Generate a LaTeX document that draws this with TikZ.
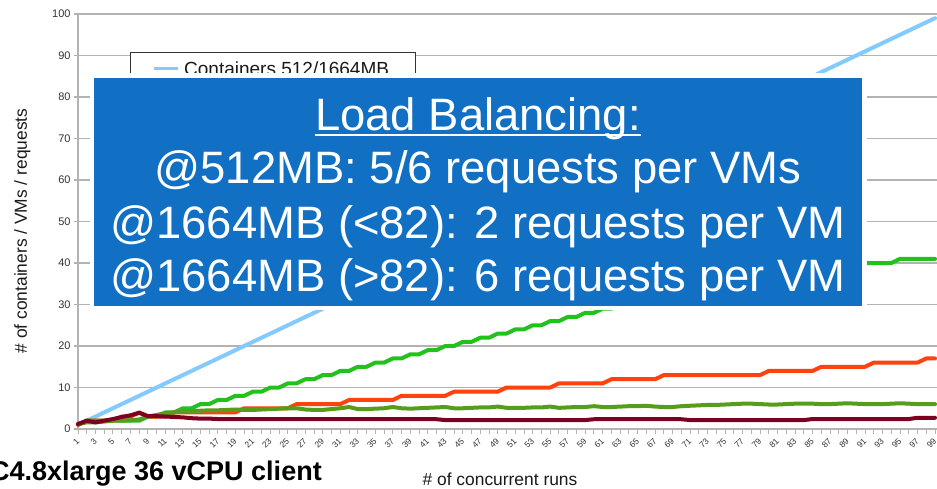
\documentclass[tikz,border=0pt]{standalone}
\usepackage{fontspec}
\setmainfont{Liberation Sans}
\definecolor{boxblue}{HTML}{1170C4}
\definecolor{gridgray}{HTML}{B3B3B3}
\definecolor{sblue}{HTML}{83CAFF}
\definecolor{sgreen}{HTML}{22C11C}
\definecolor{sorange}{HTML}{FF420E}
\definecolor{solive}{HTML}{579D1C}
\definecolor{sred}{HTML}{7E0021}
\definecolor{labelgray}{HTML}{333333}
\definecolor{titlegray}{HTML}{1A1A1A}
\begin{document}
\begin{tikzpicture}[x=1pt,y=-1pt,
  series/.style={line width=4pt, line join=round, line cap=round},
  ytick/.style={font=\fontsize{11}{13}\selectfont, text=labelgray, anchor=east, inner sep=0pt},
  xtick/.style={font=\fontsize{8.5}{10}\selectfont, text=labelgray, anchor=east, rotate=45, inner sep=0pt},
  axistitle/.style={font=\fontsize{17.4}{20}\selectfont, text=titlegray, inner sep=0pt},
  boxline/.style={text=white, font=\fontsize{45.4}{54}\selectfont, anchor=base, inner sep=0pt}]
\useasboundingbox (0,0) rectangle (937,489);
\fill[white] (0,0) rectangle (937,489);
\clip (0,0) rectangle (937,489);

% horizontal grid, y ticks and y labels
\foreach \v in {0,10,...,100} {
  \draw[gridgray, line width=1.1pt] (73.5,{429-4.15*\v}) -- (937,{429-4.15*\v});
  \node[ytick] (ylab\v) at (70.8,{429-4.15*\v}) {\v};
}
% axes
\draw[gridgray, line width=1.1pt] (78,14) -- (78,429);
\foreach \n in {1,...,99}
  \draw[gridgray, line width=1pt] ({78+8.745*(\n-1)},429) -- ++(0,5);
\foreach \n in {1,3,...,99}
  \node[xtick] (xlab\n) at ({78+8.745*(\n-1)},439.5) {\n};

% axis titles
\node[axistitle, rotate=90, anchor=base] (ytitle) at (27,231) {\# of containers / VMs / requests};
\node[axistitle, anchor=base] (xtitle) at (500,485) {\# of concurrent runs};

% data series (category n, value v)
\begin{scope}[shift={(69.255,429)}, x=8.745pt, y=4.15pt]
  \draw[series, sblue] (1,1) -- (99,99);
  \draw[series, sgreen] (1,1) -- (2,2) -- (8,2)
    \foreach \n in {9,...,94} { -- (\n,{min(floor((\n-1)/2)-1,40)}) }
    -- (95,41) -- (99,41);
  \draw[series, sorange] (1,1) -- (2,2) -- (5,2) -- (6,3) -- (7,3) -- (8,4) -- (9,3)
    -- (10,3) -- (11,3) -- (12,4) -- (13,4)
    \foreach \n in {14,...,79} { -- (\n,{min(4+floor((\n-14)/6),13)}) }
    \foreach \n in {80,...,99} { -- (\n,{14+floor((\n-80)/6)}) };
  \draw[series, solive] plot coordinates {
    (1,1.2) (2,1.6) (3,1.6) (4,1.8) (5,2.0) (6,2.0) (7,2.1) (8,2.3) (9,3.0) (10,3.4)
    (11,3.8) (12,4.0) (13,4.2) (14,4.3) (15,4.4) (16,4.5) (17,4.5) (18,4.6) (19,4.7) (20,4.6)
    (21,4.6) (22,4.7) (23,4.8) (24,4.9) (25,5.0) (26,5.0) (27,4.7) (28,4.6) (29,4.6) (30,4.8)
    (31,5.0) (32,5.3) (33,4.8) (34,4.8) (35,4.9) (36,5.0) (37,5.3) (38,5.0) (39,4.9) (40,5.0)
    (41,5.1) (42,5.2) (43,5.3) (44,5.0) (45,5.0) (46,5.1) (47,5.2) (48,5.2) (49,5.4) (50,5.1)
    (51,5.1) (52,5.1) (53,5.2) (54,5.2) (55,5.4) (56,5.1) (57,5.2) (58,5.3) (59,5.3) (60,5.5)
    (61,5.3) (62,5.3) (63,5.4) (64,5.5) (65,5.5) (66,5.6) (67,5.4) (68,5.3) (69,5.3) (70,5.5)
    (71,5.6) (72,5.7) (73,5.8) (74,5.8) (75,5.9) (76,6.0) (77,6.1) (78,6.1) (79,6.0) (80,5.9)
    (81,5.9) (82,6.0) (83,6.1) (84,6.1) (85,6.1) (86,6.0) (87,6.0) (88,6.1) (89,6.2) (90,6.1)
    (91,6.0) (92,6.0) (93,6.0) (94,6.1) (95,6.2) (96,6.1) (97,6.0) (98,6.0) (99,6.0)};
  \draw[series, sred] plot coordinates {
    (1,1.2) (2,2.0) (3,1.6) (4,2.0) (5,2.4) (6,2.9) (7,3.3) (8,3.9) (9,3.1) (10,3.1)
    (11,3.0) (12,2.9) (13,2.8) (14,2.6) (15,2.5) (16,2.5) (17,2.4) (20,2.4)
    (21,2.35) (42,2.35) (43,2.15) (59,2.15) (60,2.35) (70,2.35) (71,2.15) (84,2.15)
    (85,2.4) (96,2.4) (97,2.7) (99,2.7)};
\end{scope}

% legend
\draw[fill=white, draw=black!80, line width=0.9pt] (130,52.7) rectangle (415,150);
\draw[sblue, line width=3pt] (154,68.3) -- (178,68.3);
\node[font=\fontsize{19}{22}\selectfont, text=titlegray, anchor=base west, inner sep=0pt] (leg1) at (184,75.3) {Containers 512/1664MB};

% annotation box
\fill[white] (89.5,73.5) rectangle (866.5,310);
\fill[boxblue] (94,78) rectangle (862,305.5);
\node[boxline] (t0) at (478,131) {Load Balancing:};
\draw[white, line width=2.4pt] ([yshift=-3.8pt]t0.base west) -- ([yshift=-3.8pt]t0.base east);
\node[boxline] (t1) at (478,184) {@512MB: 5/6 requests per VMs};
\node[boxline] (t2) at (478,238) {@1664MB (<82): 2 requests per VM};
\node[boxline] (t3) at (478,291) {@1664MB (>82): 6 requests per VM};

% caption
\node[font=\bfseries\fontsize{27}{32}\selectfont, anchor=base east, inner sep=0pt] (client) at (322,480) {C4.8xlarge 36 vCPU client};
\end{tikzpicture}
\end{document}
